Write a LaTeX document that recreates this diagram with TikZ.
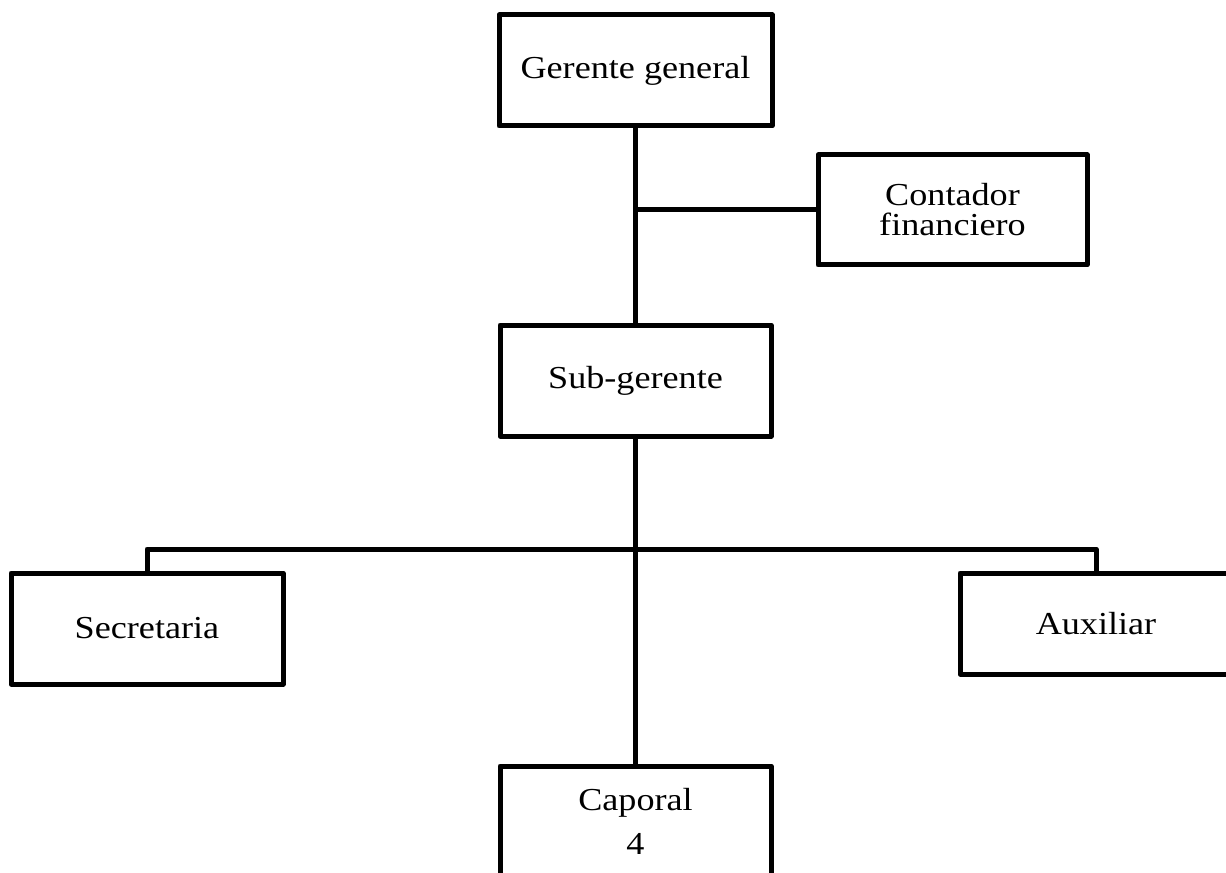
\documentclass[tikz,border=0pt]{standalone}
\usepackage{fontspec}
\setmainfont{Liberation Serif}[FakeStretch=1.13]
\begin{document}
\begin{tikzpicture}[x=0.75pt,y=-0.75pt,
  line join=round,
  orgbox/.style={draw=black, line width=3.75pt, inner sep=0pt, align=center,
    font=\fontsize{24}{22.5}\selectfont},
  conn/.style={draw=black, line width=3.75pt}]
\useasboundingbox (0,0) rectangle (1226,873);
\clip (0,0) rectangle (1226,873);
\fill[white] (0,0) rectangle (1226,873);
\node[orgbox, minimum width=273*0.75pt, minimum height=111*0.75pt] (gg) at (635.5,70.5) {Gerente general};
\node[orgbox, minimum width=269*0.75pt, minimum height=110*0.75pt] (cf) at (952.5,210) {Contador\\financiero};
\node[orgbox, minimum width=271*0.75pt, minimum height=111*0.75pt] (sg) at (635.5,380.5) {Sub-gerente};
\node[orgbox, minimum width=272*0.75pt, minimum height=111*0.75pt] (sec) at (147,628.5) {Secretaria};
\node[orgbox, minimum width=272*0.75pt, minimum height=101*0.75pt] (aux) at (1096,623.5) {Auxiliar};
\node[orgbox, minimum width=271*0.75pt, minimum height=111*0.75pt] (cap) at (635.5,821.5) {Caporal\\[10pt]4};
\coordinate (bus) at (635.5,549);
\draw[conn] (gg.south) -- (sg.north);
\draw[conn] (cf.west) -- (cf.west -| gg.south);
\draw[conn] (sg.south) -- (cap.north);
\draw[conn] (sec.north) |- (bus) -| (aux.north);
\end{tikzpicture}
\end{document}
